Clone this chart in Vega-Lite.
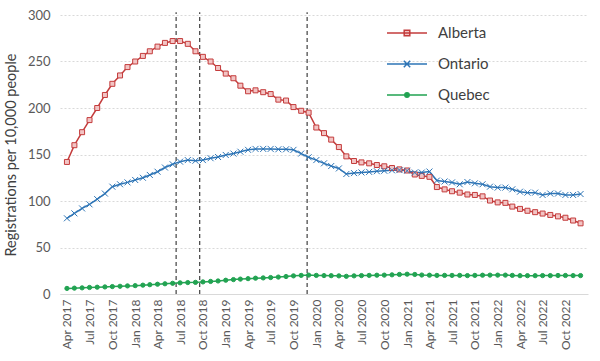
{
"$schema": "https://vega.github.io/schema/vega-lite/v6.json",
"width": 528, "height": 279,
"autosize": "none",
"padding": {"left": 60, "top": 15, "right": 12, "bottom": 67},
"background": "white",
"config": {"font": "Lato", "view": {"stroke": null}},
"datasets": {
"events": [{"date": "2018-06-15"}, {"date": "2018-09-18"}, {"date": "2019-11-25"}],
"reg": [
{"date":"2017-04-01","series":"Alberta","value":142},{"date":"2017-05-01","series":"Alberta","value":160},{"date":"2017-06-01","series":"Alberta","value":174},{"date":"2017-07-01","series":"Alberta","value":187},{"date":"2017-08-01","series":"Alberta","value":200},{"date":"2017-09-01","series":"Alberta","value":214},{"date":"2017-10-01","series":"Alberta","value":226},{"date":"2017-11-01","series":"Alberta","value":235},{"date":"2017-12-01","series":"Alberta","value":244},
{"date":"2018-01-01","series":"Alberta","value":250},{"date":"2018-02-01","series":"Alberta","value":256},{"date":"2018-03-01","series":"Alberta","value":261},{"date":"2018-04-01","series":"Alberta","value":266},{"date":"2018-05-01","series":"Alberta","value":270},{"date":"2018-06-01","series":"Alberta","value":272},{"date":"2018-07-01","series":"Alberta","value":272},{"date":"2018-08-01","series":"Alberta","value":269},{"date":"2018-09-01","series":"Alberta","value":261},{"date":"2018-10-01","series":"Alberta","value":255},{"date":"2018-11-01","series":"Alberta","value":250},{"date":"2018-12-01","series":"Alberta","value":243},
{"date":"2019-01-01","series":"Alberta","value":237},{"date":"2019-02-01","series":"Alberta","value":232},{"date":"2019-03-01","series":"Alberta","value":224},{"date":"2019-04-01","series":"Alberta","value":218},{"date":"2019-05-01","series":"Alberta","value":219},{"date":"2019-06-01","series":"Alberta","value":217},{"date":"2019-07-01","series":"Alberta","value":215},{"date":"2019-08-01","series":"Alberta","value":209},{"date":"2019-09-01","series":"Alberta","value":208},{"date":"2019-10-01","series":"Alberta","value":201},{"date":"2019-11-01","series":"Alberta","value":197},{"date":"2019-12-01","series":"Alberta","value":195},
{"date":"2020-01-01","series":"Alberta","value":179},{"date":"2020-02-01","series":"Alberta","value":173},{"date":"2020-03-01","series":"Alberta","value":166},{"date":"2020-04-01","series":"Alberta","value":158},{"date":"2020-05-01","series":"Alberta","value":148},{"date":"2020-06-01","series":"Alberta","value":143},{"date":"2020-07-01","series":"Alberta","value":141.5},{"date":"2020-08-01","series":"Alberta","value":140.5},{"date":"2020-09-01","series":"Alberta","value":138.7},{"date":"2020-10-01","series":"Alberta","value":137.3},{"date":"2020-11-01","series":"Alberta","value":135.5},{"date":"2020-12-01","series":"Alberta","value":134},
{"date":"2021-01-01","series":"Alberta","value":132.8},{"date":"2021-02-01","series":"Alberta","value":128.5},{"date":"2021-03-01","series":"Alberta","value":127},{"date":"2021-04-01","series":"Alberta","value":126},{"date":"2021-05-01","series":"Alberta","value":115},{"date":"2021-06-01","series":"Alberta","value":112.5},{"date":"2021-07-01","series":"Alberta","value":110.5},{"date":"2021-08-01","series":"Alberta","value":109},{"date":"2021-09-01","series":"Alberta","value":107},{"date":"2021-10-01","series":"Alberta","value":106.5},{"date":"2021-11-01","series":"Alberta","value":105},{"date":"2021-12-01","series":"Alberta","value":100.5},
{"date":"2022-01-01","series":"Alberta","value":98.5},{"date":"2022-02-01","series":"Alberta","value":98},{"date":"2022-03-01","series":"Alberta","value":94},{"date":"2022-04-01","series":"Alberta","value":91.5},{"date":"2022-05-01","series":"Alberta","value":89.5},{"date":"2022-06-01","series":"Alberta","value":88},{"date":"2022-07-01","series":"Alberta","value":86.5},{"date":"2022-08-01","series":"Alberta","value":85},{"date":"2022-09-01","series":"Alberta","value":83.5},{"date":"2022-10-01","series":"Alberta","value":82},{"date":"2022-11-01","series":"Alberta","value":79},{"date":"2022-12-01","series":"Alberta","value":76},
{"date":"2017-04-01","series":"Ontario","value":81.4},{"date":"2017-05-01","series":"Ontario","value":86.7},{"date":"2017-06-01","series":"Ontario","value":92},{"date":"2017-07-01","series":"Ontario","value":96.4},{"date":"2017-08-01","series":"Ontario","value":102},{"date":"2017-09-01","series":"Ontario","value":108},{"date":"2017-10-01","series":"Ontario","value":115.4},{"date":"2017-11-01","series":"Ontario","value":118},{"date":"2017-12-01","series":"Ontario","value":120},
{"date":"2018-01-01","series":"Ontario","value":122.6},{"date":"2018-02-01","series":"Ontario","value":125},{"date":"2018-03-01","series":"Ontario","value":128},{"date":"2018-04-01","series":"Ontario","value":131.5},{"date":"2018-05-01","series":"Ontario","value":136},{"date":"2018-06-01","series":"Ontario","value":139.5},{"date":"2018-07-01","series":"Ontario","value":142.3},{"date":"2018-08-01","series":"Ontario","value":144},{"date":"2018-09-01","series":"Ontario","value":143.3},{"date":"2018-10-01","series":"Ontario","value":144},{"date":"2018-11-01","series":"Ontario","value":146},{"date":"2018-12-01","series":"Ontario","value":147.3},
{"date":"2019-01-01","series":"Ontario","value":149.5},{"date":"2019-02-01","series":"Ontario","value":151},{"date":"2019-03-01","series":"Ontario","value":153},{"date":"2019-04-01","series":"Ontario","value":155},{"date":"2019-05-01","series":"Ontario","value":156},{"date":"2019-06-01","series":"Ontario","value":156},{"date":"2019-07-01","series":"Ontario","value":156},{"date":"2019-08-01","series":"Ontario","value":155.6},{"date":"2019-09-01","series":"Ontario","value":155.6},{"date":"2019-10-01","series":"Ontario","value":155},{"date":"2019-11-01","series":"Ontario","value":151},{"date":"2019-12-01","series":"Ontario","value":147},
{"date":"2020-01-01","series":"Ontario","value":144},{"date":"2020-02-01","series":"Ontario","value":140.5},{"date":"2020-03-01","series":"Ontario","value":137.6},{"date":"2020-04-01","series":"Ontario","value":135},{"date":"2020-05-01","series":"Ontario","value":129},{"date":"2020-06-01","series":"Ontario","value":130},{"date":"2020-07-01","series":"Ontario","value":130.7},{"date":"2020-08-01","series":"Ontario","value":131.3},{"date":"2020-09-01","series":"Ontario","value":132},{"date":"2020-10-01","series":"Ontario","value":132.5},{"date":"2020-11-01","series":"Ontario","value":133},{"date":"2020-12-01","series":"Ontario","value":133.3},
{"date":"2021-01-01","series":"Ontario","value":132.6},{"date":"2021-02-01","series":"Ontario","value":130.6},{"date":"2021-03-01","series":"Ontario","value":130.6},{"date":"2021-04-01","series":"Ontario","value":131.7},{"date":"2021-05-01","series":"Ontario","value":122},{"date":"2021-06-01","series":"Ontario","value":121},{"date":"2021-07-01","series":"Ontario","value":120},{"date":"2021-08-01","series":"Ontario","value":118},{"date":"2021-09-01","series":"Ontario","value":120.4},{"date":"2021-10-01","series":"Ontario","value":119},{"date":"2021-11-01","series":"Ontario","value":118},{"date":"2021-12-01","series":"Ontario","value":115.4},
{"date":"2022-01-01","series":"Ontario","value":114.4},{"date":"2022-02-01","series":"Ontario","value":114.4},{"date":"2022-03-01","series":"Ontario","value":112.6},{"date":"2022-04-01","series":"Ontario","value":110},{"date":"2022-05-01","series":"Ontario","value":109},{"date":"2022-06-01","series":"Ontario","value":109},{"date":"2022-07-01","series":"Ontario","value":106.5},{"date":"2022-08-01","series":"Ontario","value":108},{"date":"2022-09-01","series":"Ontario","value":108},{"date":"2022-10-01","series":"Ontario","value":106.5},{"date":"2022-11-01","series":"Ontario","value":106.5},{"date":"2022-12-01","series":"Ontario","value":107.5},
{"date":"2017-04-01","series":"Quebec","value":6},{"date":"2017-05-01","series":"Quebec","value":6.3},{"date":"2017-06-01","series":"Quebec","value":6.6},{"date":"2017-07-01","series":"Quebec","value":7},{"date":"2017-08-01","series":"Quebec","value":7.3},{"date":"2017-09-01","series":"Quebec","value":7.6},{"date":"2017-10-01","series":"Quebec","value":8},{"date":"2017-11-01","series":"Quebec","value":8.3},{"date":"2017-12-01","series":"Quebec","value":8.7},
{"date":"2018-01-01","series":"Quebec","value":9},{"date":"2018-02-01","series":"Quebec","value":9.5},{"date":"2018-03-01","series":"Quebec","value":10},{"date":"2018-04-01","series":"Quebec","value":10.5},{"date":"2018-05-01","series":"Quebec","value":11},{"date":"2018-06-01","series":"Quebec","value":11.5},{"date":"2018-07-01","series":"Quebec","value":12},{"date":"2018-08-01","series":"Quebec","value":12.3},{"date":"2018-09-01","series":"Quebec","value":12.5},{"date":"2018-10-01","series":"Quebec","value":13},{"date":"2018-11-01","series":"Quebec","value":13.5},{"date":"2018-12-01","series":"Quebec","value":14},
{"date":"2019-01-01","series":"Quebec","value":14.8},{"date":"2019-02-01","series":"Quebec","value":15.5},{"date":"2019-03-01","series":"Quebec","value":16},{"date":"2019-04-01","series":"Quebec","value":16.5},{"date":"2019-05-01","series":"Quebec","value":17},{"date":"2019-06-01","series":"Quebec","value":17.3},{"date":"2019-07-01","series":"Quebec","value":17.7},{"date":"2019-08-01","series":"Quebec","value":18.2},{"date":"2019-09-01","series":"Quebec","value":18.8},{"date":"2019-10-01","series":"Quebec","value":19.5},{"date":"2019-11-01","series":"Quebec","value":20},{"date":"2019-12-01","series":"Quebec","value":20.3},
{"date":"2020-01-01","series":"Quebec","value":20},{"date":"2020-02-01","series":"Quebec","value":19.8},{"date":"2020-03-01","series":"Quebec","value":19.7},{"date":"2020-04-01","series":"Quebec","value":19.5},{"date":"2020-05-01","series":"Quebec","value":19},{"date":"2020-06-01","series":"Quebec","value":19.5},{"date":"2020-07-01","series":"Quebec","value":19.8},{"date":"2020-08-01","series":"Quebec","value":20},{"date":"2020-09-01","series":"Quebec","value":20.2},{"date":"2020-10-01","series":"Quebec","value":20.3},{"date":"2020-11-01","series":"Quebec","value":20.6},{"date":"2020-12-01","series":"Quebec","value":21},
{"date":"2021-01-01","series":"Quebec","value":21.3},{"date":"2021-02-01","series":"Quebec","value":21},{"date":"2021-03-01","series":"Quebec","value":20.4},{"date":"2021-04-01","series":"Quebec","value":20.2},{"date":"2021-05-01","series":"Quebec","value":20},{"date":"2021-06-01","series":"Quebec","value":20},{"date":"2021-07-01","series":"Quebec","value":20},{"date":"2021-08-01","series":"Quebec","value":20},{"date":"2021-09-01","series":"Quebec","value":19.8},{"date":"2021-10-01","series":"Quebec","value":20},{"date":"2021-11-01","series":"Quebec","value":20.2},{"date":"2021-12-01","series":"Quebec","value":20.3},
{"date":"2022-01-01","series":"Quebec","value":20.3},{"date":"2022-02-01","series":"Quebec","value":20.3},{"date":"2022-03-01","series":"Quebec","value":20},{"date":"2022-04-01","series":"Quebec","value":19.7},{"date":"2022-05-01","series":"Quebec","value":19.7},{"date":"2022-06-01","series":"Quebec","value":19.7},{"date":"2022-07-01","series":"Quebec","value":19.8},{"date":"2022-08-01","series":"Quebec","value":19.8},{"date":"2022-09-01","series":"Quebec","value":19.9},{"date":"2022-10-01","series":"Quebec","value":19.9},{"date":"2022-11-01","series":"Quebec","value":19.8},{"date":"2022-12-01","series":"Quebec","value":19.8}
]
},
"layer": [
{
"data": {"name": "events"},
"mark": {"type": "rule", "strokeDash": [4, 3], "color": "#404040", "strokeWidth": 1.2},
"encoding": {
"x": {"field": "date", "type": "temporal", "scale": {"type": "utc"}},
"y": {"datum": 0, "type": "quantitative"},
"y2": {"datum": 303}
}
},
{
"data": {"name": "reg"},
"mark": {"type": "line", "strokeWidth": 1.5},
"encoding": {
"x": {"field": "date", "type": "temporal",
"scale": {"type": "utc", "domain": [{"year": 2017, "month": 3, "date": 4, "utc": true}, {"year": 2022, "month": 12, "date": 31, "utc": true}]},
"axis": {"title": null, "labelExpr": "utcFormat(datum.value, '%b %Y')", "tickCount": {"interval": "month", "step": 3}, "labelAngle": -90, "labelFontSize": 12, "labelColor": "#595959", "labelPadding": 5, "ticks": false, "grid": false, "domainColor": "#d9d9d9", "domainWidth": 1.2, "labelOverlap": false}},
"y": {"field": "value", "type": "quantitative",
"scale": {"domain": [0, 300], "nice": false},
"axis": {"title": "Registrations per 10,000 people", "values": [0, 50, 100, 150, 200, 250, 300], "grid": true, "gridDash": [2, 2], "gridColor": "#d9d9d9", "domain": false, "ticks": false, "labelFontSize": 13, "labelColor": "#595959", "labelPadding": 10, "titleFontSize": 14.5, "titleColor": "#404040", "titleFontWeight": "normal", "titlePadding": 9}},
"color": {"field": "series", "type": "nominal",
"scale": {"domain": ["Alberta", "Ontario", "Quebec"], "range": ["#c43c3c", "#2e75b6", "#22a352"]},
"legend": {"title": null, "orient": "none", "legendX": 326, "legendY": -3, "labelFontSize": 15, "labelColor": "#404040", "symbolSize": 1600, "symbolStrokeWidth": 1.5, "labelOffset": 10, "rowPadding": 2,
"encode": {"symbols": {"update": {
"shape": {"signal": "datum.value === 'Alberta' ? 'M-1,0H1M-0.14,-0.14H0.14V0.14H-0.14Z' : datum.value === 'Ontario' ? 'M-1,0H1M-0.16,-0.16L0.16,0.16M-0.16,0.16L0.16,-0.16' : 'M-1,0H1M-0.11,0A0.11,0.11,0,1,0,0.11,0A0.11,0.11,0,1,0,-0.11,0Z'"},
"fill": {"signal": "datum.value === 'Alberta' ? '#f2c4c4' : datum.value === 'Quebec' ? '#22a352' : 'transparent'"},
"fillOpacity": {"value": 1},
"size": {"value": 1600}
}}}}}
}
},
{
"data": {"name": "reg"},
"transform": [{"filter": "datum.series === 'Alberta'"}],
"mark": {"type": "point", "shape": "square", "size": 25, "stroke": "#c43c3c", "fill": "#f2c4c4", "strokeWidth": 1, "opacity": 1, "fillOpacity": 1},
"encoding": {
"x": {"field": "date", "type": "temporal"},
"y": {"field": "value", "type": "quantitative"}
}
},
{
"data": {"name": "reg"},
"transform": [{"filter": "datum.series === 'Ontario'"}],
"mark": {"type": "point", "shape": "M-1,-1L1,1M-1,1L1,-1", "size": 36, "stroke": "#2e75b6", "fill": "transparent", "strokeWidth": 1, "opacity": 1},
"encoding": {
"x": {"field": "date", "type": "temporal"},
"y": {"field": "value", "type": "quantitative"}
}
},
{
"data": {"name": "reg"},
"transform": [{"filter": "datum.series === 'Quebec'"}],
"mark": {"type": "point", "shape": "circle", "size": 18, "stroke": "#22a352", "fill": "#22a352", "strokeWidth": 1, "opacity": 1, "fillOpacity": 1},
"encoding": {
"x": {"field": "date", "type": "temporal"},
"y": {"field": "value", "type": "quantitative"}
}
}
]
}
